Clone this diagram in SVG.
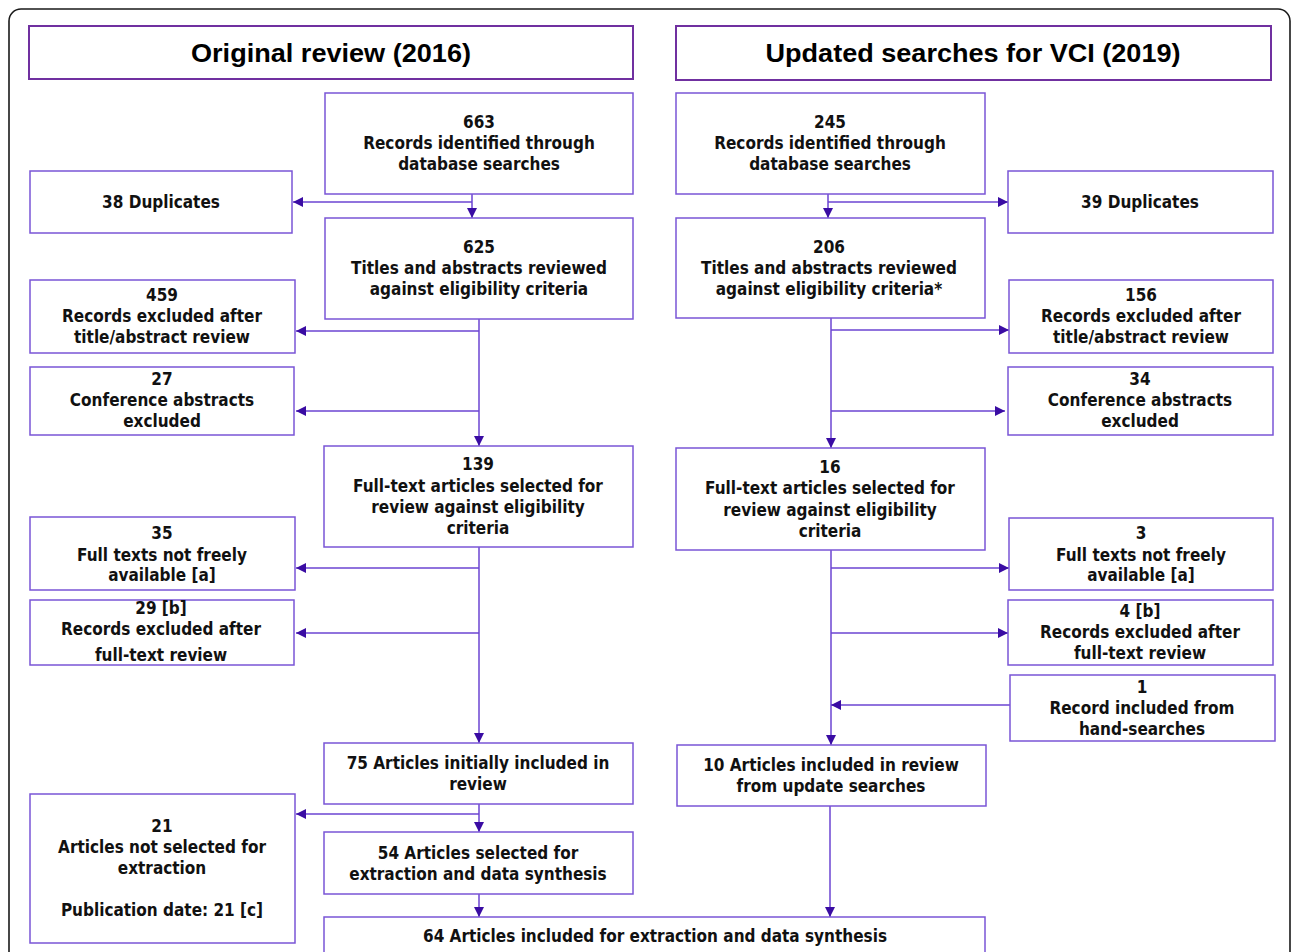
<svg xmlns="http://www.w3.org/2000/svg" width="1292" height="952" viewBox="0 0 1292 952">
<defs>
<marker id="ah" viewBox="0 0 10 10" refX="10" refY="5" markerWidth="10" markerHeight="10" markerUnits="userSpaceOnUse" orient="auto">
<path d="M0,0 L10,5 L0,10 Z" fill="#3a0ca3"/>
</marker>
<style>
.frame{fill:none;stroke:#1a1a1a;stroke-width:1.6}
.hdr{fill:#fff;stroke:#7030a0;stroke-width:2}
.hdrt{font-family:"Liberation Sans",Arial,sans-serif;font-weight:bold;font-size:26px;fill:#000;text-anchor:middle}
.box{fill:#fff;stroke:#7a55d6;stroke-width:1.5}
.t{font-family:"DejaVu Sans Condensed","DejaVu Sans",sans-serif;font-weight:bold;font-size:17px;fill:#111;text-anchor:middle}
.c{fill:none;stroke:#6b45d2;stroke-width:1.5}
.a{marker-end:url(#ah)}
</style>
</defs>
<rect width="1292" height="952" fill="#fff"/>
<rect class="frame" x="9" y="9" width="1281" height="960" rx="12"/>

<g id="hdr-left"><rect class="hdr" x="29" y="26" width="604" height="53"/><text class="hdrt" x="331" y="62" textLength="280" lengthAdjust="spacingAndGlyphs">Original review (2016)</text></g>
<g id="hdr-right"><rect class="hdr" x="676" y="26" width="595" height="54"/><text class="hdrt" x="973" y="62" textLength="415" lengthAdjust="spacingAndGlyphs">Updated searches for VCI (2019)</text></g>

<g id="connectors">
<path class="c a" d="M472,194 V218"/>
<path class="c a" d="M472,202 H293"/>
<path class="c a" d="M479,319 V446"/>
<path class="c a" d="M479,331 H296"/>
<path class="c a" d="M479,411 H296"/>
<path class="c a" d="M479,547 V743"/>
<path class="c a" d="M479,568 H296"/>
<path class="c a" d="M479,633 H296"/>
<path class="c a" d="M479,804 V832"/>
<path class="c a" d="M479,814 H296"/>
<path class="c a" d="M479,894 V917"/>

<path class="c a" d="M828,194 V218"/>
<path class="c a" d="M828,202 H1008"/>
<path class="c a" d="M831,318 V448"/>
<path class="c a" d="M831,330 H1009"/>
<path class="c a" d="M831,411 H1005"/>
<path class="c a" d="M831,550 V745"/>
<path class="c a" d="M831,568 H1009"/>
<path class="c a" d="M831,633 H1008"/>
<path class="c a" d="M1010,705 H831"/>
<path class="c a" d="M830,806 V917"/>
</g>

<g id="n663"><rect class="box" x="325" y="93" width="308" height="101"/><text class="t" x="479" y="128">663</text><text class="t" x="479" y="149">Records identified through</text><text class="t" x="479" y="170">database searches</text></g>
<g id="n38"><rect class="box" x="30" y="171" width="262" height="62"/><text class="t" x="161" y="208">38 Duplicates</text></g>
<g id="n625"><rect class="box" x="325" y="218" width="308" height="101"/><text class="t" x="479" y="253">625</text><text class="t" x="479" y="274">Titles and abstracts reviewed</text><text class="t" x="479" y="295">against eligibility criteria</text></g>
<g id="n459"><rect class="box" x="30" y="280" width="265" height="73"/><text class="t" x="162" y="301">459</text><text class="t" x="162" y="322">Records excluded after</text><text class="t" x="162" y="343">title/abstract review</text></g>
<g id="n27"><rect class="box" x="30" y="367" width="264" height="68"/><text class="t" x="162" y="385">27</text><text class="t" x="162" y="406">Conference abstracts</text><text class="t" x="162" y="427">excluded</text></g>
<g id="n139"><rect class="box" x="324" y="446" width="309" height="101"/><text class="t" x="478" y="470">139</text><text class="t" x="478" y="492">Full-text articles selected for</text><text class="t" x="478" y="513">review against eligibility</text><text class="t" x="478" y="534">criteria</text></g>
<g id="n35"><rect class="box" x="30" y="517" width="265" height="73"/><text class="t" x="162" y="539">35</text><text class="t" x="162" y="561">Full texts not freely</text><text class="t" x="162" y="581">available [a]</text></g>
<g id="n29"><rect class="box" x="30" y="600" width="264" height="65"/><text class="t" x="161" y="614">29 [b]</text><text class="t" x="161" y="635">Records excluded after</text><text class="t" x="161" y="661">full-text review</text></g>
<g id="n75"><rect class="box" x="324" y="743" width="309" height="61"/><text class="t" x="478" y="769">75 Articles initially included in</text><text class="t" x="478" y="790">review</text></g>
<g id="n21"><rect class="box" x="30" y="794" width="265" height="149"/><text class="t" x="162" y="832">21</text><text class="t" x="162" y="853">Articles not selected for</text><text class="t" x="162" y="874">extraction</text><text class="t" x="162" y="916">Publication date: 21 [c]</text></g>
<g id="n54"><rect class="box" x="324" y="832" width="309" height="62"/><text class="t" x="478" y="859">54 Articles selected for</text><text class="t" x="478" y="880">extraction and data synthesis</text></g>
<g id="n64"><rect class="box" x="324" y="917" width="661" height="50"/><text class="t" x="655" y="942">64 Articles included for extraction and data synthesis</text></g>

<g id="n245"><rect class="box" x="676" y="93" width="309" height="101"/><text class="t" x="830" y="128">245</text><text class="t" x="830" y="149">Records identified through</text><text class="t" x="830" y="170">database searches</text></g>
<g id="n39"><rect class="box" x="1008" y="171" width="265" height="62"/><text class="t" x="1140" y="208">39 Duplicates</text></g>
<g id="n206"><rect class="box" x="676" y="218" width="309" height="100"/><text class="t" x="829" y="253">206</text><text class="t" x="829" y="274">Titles and abstracts reviewed</text><text class="t" x="829" y="295">against eligibility criteria*</text></g>
<g id="n156"><rect class="box" x="1009" y="280" width="264" height="73"/><text class="t" x="1141" y="301">156</text><text class="t" x="1141" y="322">Records excluded after</text><text class="t" x="1141" y="343">title/abstract review</text></g>
<g id="n34"><rect class="box" x="1008" y="367" width="265" height="68"/><text class="t" x="1140" y="385">34</text><text class="t" x="1140" y="406">Conference abstracts</text><text class="t" x="1140" y="427">excluded</text></g>
<g id="n16"><rect class="box" x="676" y="448" width="309" height="102"/><text class="t" x="830" y="473">16</text><text class="t" x="830" y="494">Full-text articles selected for</text><text class="t" x="830" y="516">review against eligibility</text><text class="t" x="830" y="537">criteria</text></g>
<g id="n3"><rect class="box" x="1009" y="518" width="264" height="72"/><text class="t" x="1141" y="539">3</text><text class="t" x="1141" y="561">Full texts not freely</text><text class="t" x="1141" y="581">available [a]</text></g>
<g id="n4"><rect class="box" x="1008" y="600" width="265" height="65"/><text class="t" x="1140" y="617">4 [b]</text><text class="t" x="1140" y="638">Records excluded after</text><text class="t" x="1140" y="659">full-text review</text></g>
<g id="n1"><rect class="box" x="1010" y="675" width="265" height="66"/><text class="t" x="1142" y="693">1</text><text class="t" x="1142" y="714">Record included from</text><text class="t" x="1142" y="735">hand-searches</text></g>
<g id="n10"><rect class="box" x="677" y="745" width="309" height="61"/><text class="t" x="831" y="771">10 Articles included in review</text><text class="t" x="831" y="792">from update searches</text></g>
</svg>
